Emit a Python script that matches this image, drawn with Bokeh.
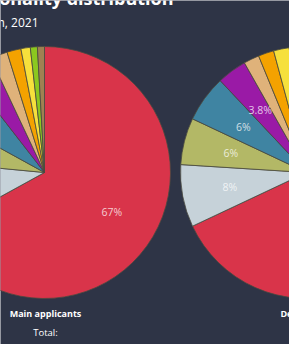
import numpy as np
from bokeh.plotting import figure
from bokeh.models import Range1d, ColumnDataSource
from bokeh.core.properties import value
from bokeh.embed import file_html
from bokeh.resources import INLINE

# ---- data ----
nationalities = ["N1", "N2", "N3", "N4", "N5", "N6", "N7", "N8", "N9", "N10"]
colors = ["#d9344a", "#c6d2d9", "#b3b866", "#3f84a2", "#9a1aa6",
          "#dfb27a", "#f4a200", "#f6e03c", "#8bc81f", "#9f8152"]
main_applicants = [67.0, 9.5, 6.5, 6.5, 3.5, 2.2, 1.8, 1.2, 0.9, 0.9]
dependents = [68.0, 8.0, 6.0, 6.0, 3.8, 2.0, 2.0, 2.0, 1.2, 1.0]
label_texts_main = ["67%", "9.5%", "6.5%", "6.5%", "3.5%", "", "", "", "", ""]
label_texts_dep = ["68%", "8%", "6%", "6%", "3.8%", "", "", "", "", ""]
title_text = "Applicants' nationality distribution"
subtitle_text = "Data as of March, 2021"
pie_names = ["Main applicants", "Dependents"]

BG = "#2e3446"
W, H = 289, 344

p = figure(width=W, height=H, output_backend="svg", toolbar_location=None,
           x_range=Range1d(0, W), y_range=Range1d(0, H), min_border=0)
p.axis.visible = False
p.grid.visible = False
p.outline_line_color = None
p.background_fill_color = BG
p.border_fill_color = BG

R = 126
centers = [(44, 172), (306, 172)]

def add_pie(vals, labels, cx, cy):
    v = np.array(vals, dtype=float)
    frac = v / v.sum()
    cum = np.concatenate([[0], np.cumsum(frac)])
    start = np.pi / 2 - 2 * np.pi * cum[:-1]
    end = np.pi / 2 - 2 * np.pi * cum[1:]
    src = ColumnDataSource(dict(x=[cx] * len(v), y=[cy] * len(v),
                                start=start, end=end, color=colors))
    p.wedge(x="x", y="y", radius=R, start_angle="start", end_angle="end",
            direction="clock", fill_color="color", line_color="#4a4a40",
            line_width=0.8, source=src)
    mid = (start + end) / 2
    lr = 0.62 * R
    lx = cx + lr * np.cos(mid)
    ly = cy + lr * np.sin(mid)
    keep = [i for i, t in enumerate(labels) if t and 14 < lx[i] < W - 14]
    lsrc = ColumnDataSource(dict(x=[lx[i] for i in keep], y=[ly[i] for i in keep],
                                 t=[labels[i] for i in keep]))
    p.text(x="x", y="y", text="t", source=lsrc, text_color="white",
           text_alpha=0.75, text_font=value("Open Sans"),
           text_font_size="10.5px", text_align="center", text_baseline="middle")

add_pie(main_applicants, label_texts_main, *centers[0])
add_pie(dependents, label_texts_dep, *centers[1])

p.text(x=[173], y=[347], text=[title_text], text_color="white",
       text_font=value("Open Sans"), text_font_style="bold",
       text_font_size="18px", text_align="right", text_baseline="alphabetic")
p.text(x=[38], y=[322], text=[subtitle_text], text_color="white",
       text_font=value("Open Sans"), text_font_size="12px",
       text_align="right", text_baseline="alphabetic")

for (cx, cy), name in zip(centers, pie_names):
    p.text(x=[cx + 1], y=[31], text=[name], text_color="white",
           text_font=value("Open Sans"), text_font_style="bold",
           text_font_size="9px", text_align="center", text_baseline="alphabetic")
    p.text(x=[cx + 1], y=[12], text=["Total:"], text_color="white",
           text_font=value("Open Sans"), text_font_size="9.5px",
           text_align="center", text_baseline="alphabetic")

open("out.html", "w").write(file_html(p, INLINE))
